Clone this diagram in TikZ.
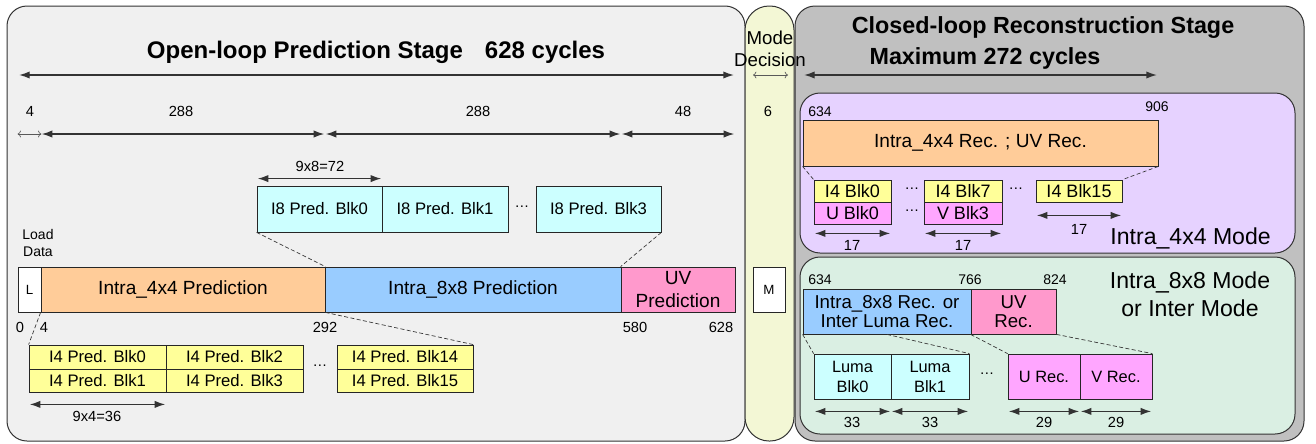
\documentclass[tikz,border=0pt]{standalone}
\usepackage{fontspec}
\setmainfont{Liberation Sans}
\usetikzlibrary{arrows.meta,calc}
\definecolor{cLeft}{HTML}{F0F0F0}
\definecolor{cMode}{HTML}{F3F7D5}
\definecolor{cRight}{HTML}{C0C0C0}
\definecolor{cPurple}{HTML}{E6D2FF}
\definecolor{cGreen}{HTML}{DAEFE3}
\definecolor{cOrange}{HTML}{FFCC99}
\definecolor{cBlue}{HTML}{99CCFF}
\definecolor{cPink}{HTML}{FF99CC}
\definecolor{cCyan}{HTML}{CCFFFF}
\definecolor{cYellow}{HTML}{FFFF99}
\definecolor{cMag}{HTML}{FFA6FF}
\tikzset{
  panel/.style={draw=black!80, line width=0.75pt},
  box/.style={draw=black!85, line width=0.6pt, inner sep=0pt, align=center},
  bigtxt/.style={font=\fontsize{14.3}{17}\selectfont},
  blktxt/.style={font=\fontsize{12.5}{15}\selectfont},
  smblk/.style={font=\fontsize{13.5}{15}\selectfont},
  smtxt/.style={font=\fontsize{10}{12}\selectfont},
  title/.style={font=\bfseries\fontsize{17.5}{20}\selectfont, inner sep=0pt},
  modetxt/.style={font=\fontsize{17.3}{21}\selectfont, inner sep=0pt, align=center},
  num/.style={font=\fontsize{11}{13}\selectfont, inner sep=0pt},
  dim/.style={line width=1.1pt, draw=black!80, {Latex[length=8pt,width=5.5pt]}-{Latex[length=8pt,width=5.5pt]}, shorten <=0.8pt, shorten >=0.8pt},
  odim/.style={line width=0.5pt, draw=black!65, {To[length=2.5pt,width=5pt]}-{To[length=2.5pt,width=5pt]}},
  dashln/.style={line width=0.5pt, draw=black!80, dash pattern=on 3pt off 1.8pt},
  dots/.style={font=\fontsize{11}{13}\selectfont, inner sep=0pt},
}
% \bx{name}{x1}{y1}{x2}{y2}{fill}{text}{options}  (pixel coordinates)
\newcommand\bx[8]{%
  \pgfmathsetmacro\bxw{(#4-#2)*0.75}%
  \pgfmathsetmacro\bxh{(#5-#3)*0.75}%
  \node[box,minimum width=\bxw pt,minimum height=\bxh pt,fill=#6,#8] (#1) at ({(#2+#4)/2},{(#3+#5)/2}) {#7};}
\begin{document}
\begin{tikzpicture}[x=0.75pt,y=-0.75pt]
\useasboundingbox (0,0) rectangle (1316,443);
% ---------- panels
\draw[panel,fill=cLeft,rounded corners=15pt] (7,6) rectangle (745,441);
\draw[panel,fill=cRight,rounded corners=15pt] (795,6) rectangle (1304,441);
\draw[panel,fill=cMode,rounded corners=18pt] (745,6) rectangle (794,441);
\draw[panel,fill=cPurple,rounded corners=15pt] (800,93) rectangle (1295,253);
\draw[panel,fill=cGreen,rounded corners=15pt] (800,257) rectangle (1295,434);
% ---------- titles
\node[title, font=\bfseries\fontsize{18}{20}\selectfont] (t1) at (376,52) {Open-loop Prediction Stage\hspace{16.5pt}628 cycles};
\node[title] (t2) at (1043,28) {Closed-loop Reconstruction Stage};
\node[title] (t3) at (985,58) {Maximum 272 cycles};
\node[font=\fontsize{14}{16.5}\selectfont, inner sep=0pt, align=center] (md) at (770,49) {Mode\\Decision};
% ---------- main bar
\bx{L}{18}{267}{41}{312}{white}{L}{smtxt}
\bx{p4}{41}{267}{325}{312}{cOrange}{Intra\_4x4 Prediction}{bigtxt}
\bx{p8}{325}{267}{621}{312}{cBlue}{Intra\_8x8 Prediction}{bigtxt}
\bx{puv}{621}{267}{735}{312}{cPink}{UV\\Prediction}{bigtxt}
\bx{M}{753}{267}{785}{312}{white}{M}{smtxt}
\node[inner sep=0pt, align=center, font=\fontsize{10.5}{13}\selectfont] (ld) at (38,243) {Load\\Data};
% top arrows
\coordinate (topL) at (18,75);
\coordinate (topR) at (735,75);
\draw[dim] (topL) -- (topR);
\coordinate (topL2) at (803,75);
\coordinate (topR2) at (1158,75);
\draw[dim] (topL2) -- (topR2);
\coordinate (mdL) at (753,75);
\coordinate (mdR) at (788,75);
\draw[odim] (mdL) -- (mdR);
% dimension row
\coordinate (rowA) at (0,134);
\draw[odim] (L.west |- rowA) -- (L.east |- rowA);
\draw[dim] (p4.west |- rowA) -- (p4.east |- rowA);
\draw[dim] (p8.west |- rowA) -- (p8.east |- rowA);
\draw[dim] (puv.west |- rowA) -- (puv.east |- rowA);
\node[num] (n4) at (30,111) {4};
\node[num] (n288a) at (181,111) {288};
\node[num] (n288b) at (478,111) {288};
\node[num] (n48) at (683,111) {48};
\node[num] (n6) at (768,111) {6};
% labels under bar
\node[num] (b0) at (20,327) {0};
\node[num] (b4) at (44,327) {4};
\node[num] (b292) at (325,327) {292};
\node[num] (b580) at (635,327) {580};
\node[num] (b628) at (721,327) {628};
% ---------- I8 blocks
\bx{i8a}{257}{186}{382}{232}{cCyan}{I8 Pred. Blk0}{blktxt}
\bx{i8b}{382}{186}{508}{232}{cCyan}{I8 Pred. Blk1}{blktxt}
\node[dots] (dt8) at (522,207) {\textellipsis};
\bx{i8d}{536}{186}{661}{232}{cCyan}{I8 Pred. Blk3}{blktxt}
\draw[dim] ([yshift=5.25pt]i8a.north west) -- ([yshift=5.25pt]i8a.north east);
\node[num] (l72) at (320,166) {9x8=72};
\draw[dashln] (i8a.south west) -- (p4.north east);
\draw[dashln] (i8d.south east) -- (puv.north west);
% ---------- I4 blocks
\bx{i4a}{29}{345}{166}{369}{cYellow}{I4 Pred. Blk0}{blktxt}
\bx{i4b}{29}{369}{166}{392}{cYellow}{I4 Pred. Blk1}{blktxt}
\bx{i4c}{166}{345}{303}{369}{cYellow}{I4 Pred. Blk2}{blktxt}
\bx{i4d}{166}{369}{303}{392}{cYellow}{I4 Pred. Blk3}{blktxt}
\node[dots] (dt4) at (320,366) {\textellipsis};
\bx{i4e}{337}{345}{473}{369}{cYellow}{I4 Pred. Blk14}{blktxt}
\bx{i4f}{337}{369}{473}{392}{cYellow}{I4 Pred. Blk15}{blktxt}
\draw[dim] ([yshift=-9pt]i4b.south west) -- ([yshift=-9pt]i4b.south east);
\node[num] (l36) at (97,416) {9x4=36};
\draw[dashln] (p4.south west) -- (i4a.north west);
\draw[dashln] (p4.south east) -- (i4e.north east);
% ---------- purple panel (Intra_4x4 mode)
\node[num, font=\fontsize{10.5}{12}\selectfont] (n634a) at (820,112) {634};
\node[num, font=\fontsize{10.5}{12}\selectfont] (n906) at (1157,107) {906};
\bx{r4}{803}{120}{1158}{166}{cOrange}{Intra\_4x4 Rec. ; UV Rec.}{bigtxt}
\bx{c0}{814}{180}{891}{202}{cYellow}{I4 Blk0}{smblk}
\bx{u0}{814}{202}{891}{224}{cMag}{U Blk0}{smblk}
\node[dots] (dp1) at (912,189) {\textellipsis};
\node[dots] (dp2) at (912,211) {\textellipsis};
\bx{c7}{924}{180}{1002}{202}{cYellow}{I4 Blk7}{smblk}
\bx{v3}{924}{202}{1002}{224}{cMag}{V Blk3}{smblk}
\node[dots] (dp3) at (1016,189) {\textellipsis};
\bx{c15}{1036}{180}{1122}{202}{cYellow}{I4 Blk15}{smblk}
\draw[dashln] (r4.south west) -- (c0.north west);
\draw[dashln] (r4.south east) -- (c15.north east);
\draw[dim] ([yshift=-6.75pt]u0.south west) -- ([yshift=-6.75pt]u0.south east);
\draw[dim] ([yshift=-6.75pt]v3.south west) -- ([yshift=-6.75pt]v3.south east);
\draw[dim] ([yshift=-9.75pt]c15.south west) -- ([yshift=-9.75pt]c15.south east);
\node[num] (s17a) at (852,245) {17};
\node[num] (s17b) at (963,245) {17};
\node[num] (s17c) at (1079,229) {17};
\node[modetxt, anchor=east] (m4) at (1271,238) {Intra\_4x4 Mode};
% ---------- green panel (Intra_8x8 / Inter mode)
\node[num, font=\fontsize{10.5}{12}\selectfont] (n634b) at (820,280) {634};
\node[num, font=\fontsize{10.5}{12}\selectfont] (n766) at (970,280) {766};
\node[num, font=\fontsize{10.5}{12}\selectfont] (n824) at (1055,280) {824};
\bx{rl}{803}{289}{971}{334}{cBlue}{Intra\_8x8 Rec. or\\Inter Luma Rec.}{font=\fontsize{14}{14.5}\selectfont}
\bx{ruv}{971}{289}{1056}{334}{cPink}{UV\\Rec.}{font=\fontsize{14}{14.5}\selectfont}
\node[modetxt] (m8) at (1190,294) {Intra\_8x8 Mode\\or Inter Mode};
\bx{l0}{814}{354}{891}{399}{cCyan}{Luma\\Blk0}{font=\fontsize{12.3}{15}\selectfont}
\bx{l1}{891}{354}{969}{399}{cCyan}{Luma\\Blk1}{font=\fontsize{12.3}{15}\selectfont}
\node[dots] (dg) at (987,374) {\textellipsis};
\bx{ur}{1008}{354}{1080}{399}{cMag}{U Rec.}{font=\fontsize{12.3}{15}\selectfont}
\bx{vr}{1080}{354}{1152}{399}{cMag}{V Rec.}{font=\fontsize{12.3}{15}\selectfont}
\draw[dashln] (rl.south west) -- (l0.north west);
\draw[dashln] (rl.south) -- (l1.north east);
\draw[dashln] (ruv.south west) -- (ur.north west);
\draw[dashln] (ruv.south east) -- (vr.north east);
\draw[dim] ([yshift=-9pt]l0.south west) -- ([yshift=-9pt]l0.south east);
\draw[dim] ([yshift=-9pt]l1.south west) -- ([yshift=-9pt]l1.south east);
\draw[dim] ([yshift=-9pt]ur.south west) -- ([yshift=-9pt]ur.south east);
\draw[dim] ([yshift=-9pt]vr.south west) -- ([yshift=-9pt]vr.south east);
\node[num] (s33a) at (852,422) {33};
\node[num] (s33b) at (930,422) {33};
\node[num] (s29a) at (1044,422) {29};
\node[num] (s29b) at (1116,422) {29};
\end{tikzpicture}
\end{document}
